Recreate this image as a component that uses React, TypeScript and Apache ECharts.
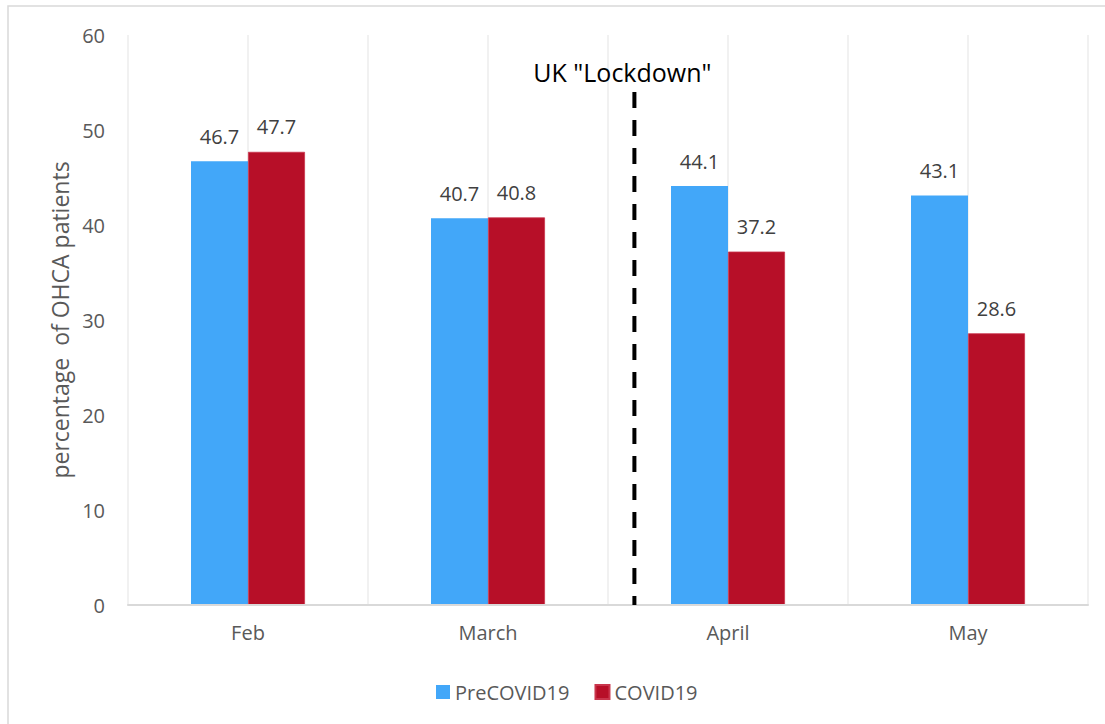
import React, { useEffect, useRef } from "react";
import * as echarts from "echarts";

const categories = ["Feb", "March", "April", "May"];
const preCovid = [46.7, 40.7, 44.1, 43.1];
const covid = [47.7, 40.8, 37.2, 28.6];
const yTicks = { min: 0, max: 60, interval: 10 };
const lockdownLabel = 'UK "Lockdown"';
// lockdown marker sits between March (index 1) and April (index 2)
const lockdownFraction = 0.61;
const lockdownTop = 54;

const FONT = "'Open Sans', sans-serif";

export default function App() {
  const ref = useRef<HTMLDivElement>(null);
  useEffect(() => {
    if (!ref.current) return;
    const chart = echarts.init(ref.current, null, { renderer: "svg" });
    const labelStyle = {
      show: true,
      position: "top",
      distance: 15,
      fontSize: 20,
      lineHeight: 20,
      color: "#404040",
      fontFamily: FONT,
      formatter: (p: any) => Number(p.value).toFixed(1),
    };
    chart.setOption({
      animation: false,
      backgroundColor: "#ffffff",
      textStyle: { fontFamily: FONT },
      grid: { left: 128, right: 17, top: 35, bottom: 119, containLabel: false },
      legend: {
        data: ["PreCOVID19", "COVID19"],
        left: 431,
        top: 677,
        icon: "rect",
        itemWidth: 14,
        itemHeight: 14,
        itemGap: 25,
        textStyle: { fontSize: 20, color: "#595959", fontFamily: FONT },
      },
      xAxis: [
        {
          type: "category",
          data: categories,
          boundaryGap: true,
          axisLine: { show: true, lineStyle: { color: "#d9d9d9", width: 2 } },
          axisTick: { show: false },
          axisLabel: { fontSize: 20, color: "#595959", margin: 17, fontFamily: FONT },
          splitLine: { show: false },
          z: 3,
        },
        {
          type: "category",
          data: ["", "", "", "", "", "", "", ""],
          boundaryGap: true,
          position: "bottom",
          axisLine: { show: false },
          axisTick: { show: false },
          axisLabel: { show: false },
          splitLine: { show: true, lineStyle: { color: "#ececec", width: 1.5 } },
        },
      ],
      yAxis: {
        type: "value",
        min: yTicks.min,
        max: yTicks.max,
        interval: yTicks.interval,
        name: "percentage  of OHCA patients",
        nameLocation: "middle",
        nameRotate: 90,
        nameGap: 57,
        nameTextStyle: { fontSize: 23, color: "#595959", fontFamily: FONT },
        axisLine: { show: false },
        axisTick: { show: false },
        axisLabel: { fontSize: 20, color: "#595959", margin: 23, fontFamily: FONT },
        splitLine: { show: false },
      },
      series: [
        {
          name: "PreCOVID19",
          type: "bar",
          data: preCovid,
          barGap: "0%",
          barCategoryGap: "52.5%",
          itemStyle: { color: "#42A7F9" },
          label: labelStyle,
        },
        {
          name: "COVID19",
          type: "bar",
          data: covid,
          barGap: "0%",
          barCategoryGap: "52.5%",
          itemStyle: { color: "#B70F28", borderColor: "#c9354c", borderWidth: 0.8 },
          label: labelStyle,
        },
      ],
    });

    const xa = chart.convertToPixel({ xAxisIndex: 0 }, categories[1]) as number;
    const xb = chart.convertToPixel({ xAxisIndex: 0 }, categories[2]) as number;
    const lx = xa + (xb - xa) * lockdownFraction;
    const y0 = chart.convertToPixel({ yAxisIndex: 0 }, 0) as number;
    const y1 = chart.convertToPixel({ yAxisIndex: 0 }, lockdownTop) as number;

    chart.setOption({
      graphic: [
        {
          type: "rect",
          shape: { x: 8, y: 6, width: 1200, height: 800 },
          style: { fill: "none", stroke: "#d9d9d9", lineWidth: 1.5 },
          silent: true,
          z: 0,
        },
        {
          type: "line",
          shape: { x1: lx, y1: y1, x2: lx, y2: y0 },
          style: { stroke: "#000000", lineWidth: 4, lineDash: [16, 12] },
          z: 10,
        },
        {
          type: "text",
          x: lx - 12,
          y: y1 - 20,
          style: {
            text: lockdownLabel,
            fontSize: 25,
            fontFamily: FONT,
            fill: "#000000",
            align: "center",
            verticalAlign: "middle",
          },
          z: 10,
        },
      ],
    });
    return () => chart.dispose();
  }, []);
  return (
    <div
      ref={ref}
      style={{ position: "fixed", left: 0, top: 0, width: 1105, height: 724 }}
    />
  );
}
